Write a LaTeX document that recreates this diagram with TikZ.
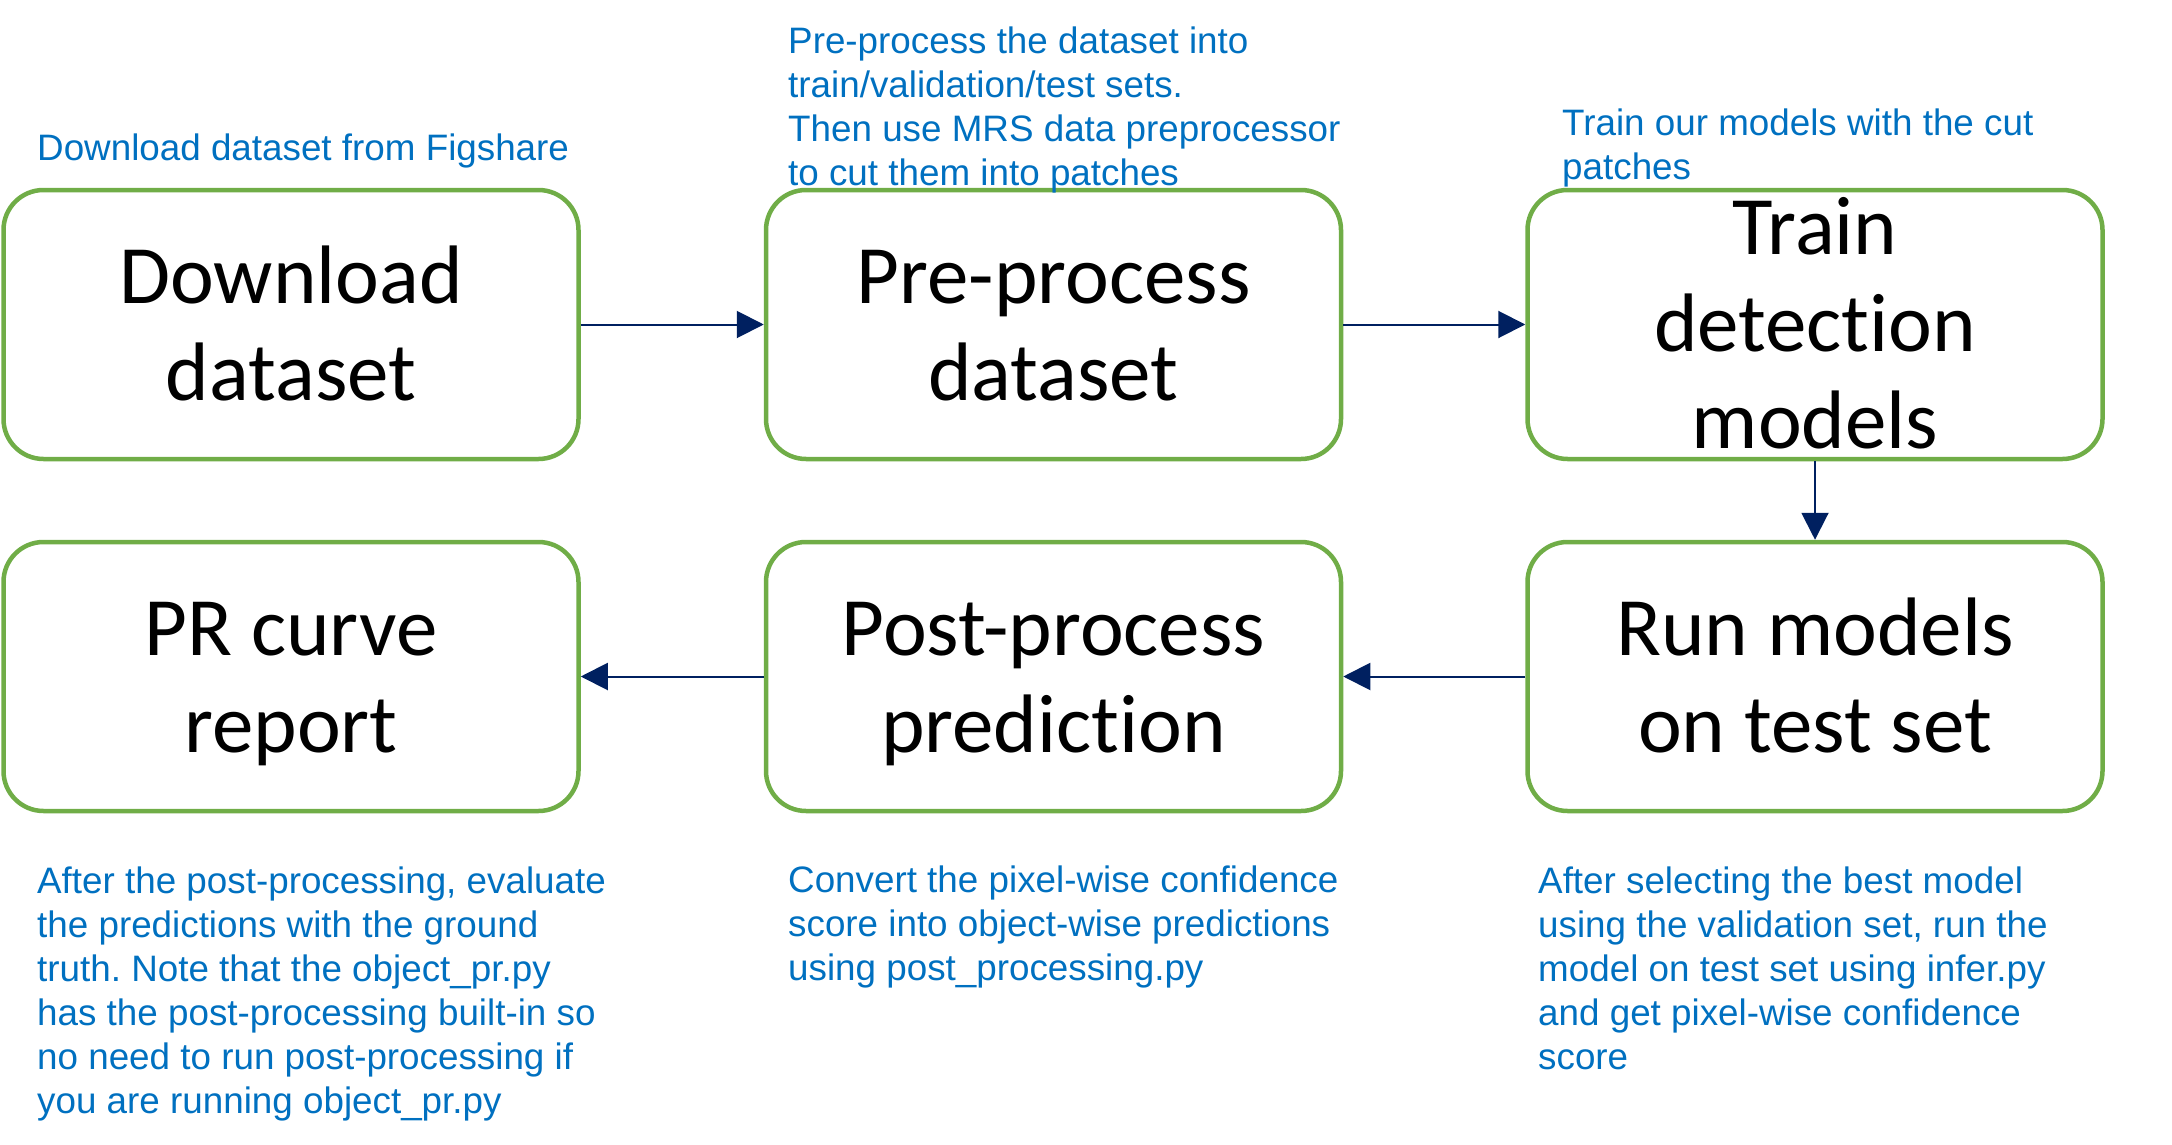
\documentclass[tikz,border=0pt]{standalone}
\usepackage{fontspec}
\setmainfont{Liberation Sans}
\newfontfamily\boxfont[Ligatures=NoCommon]{Carlito}
\usetikzlibrary{arrows.meta}
\definecolor{boxgreen}{HTML}{70AD47}
\definecolor{noteblue}{HTML}{0070C0}
\definecolor{arrownavy}{HTML}{002060}
\newcommand\boxtop{\rule{0pt}{54pt}}
\newcommand\notetop{\rule{0pt}{30pt}}
\frenchspacing
\begin{document}
\begin{tikzpicture}[x=1pt,y=-1pt,
  stagebox/.style={draw=boxgreen, line width=4.5pt, rounded corners=40pt,
    minimum width=575pt, minimum height=269pt, inner sep=0pt, align=center,
    font=\boxfont\fontsize{83}{97}\selectfont},
  note/.style={anchor=north west, inner sep=0pt, align=left, text=noteblue,
    font=\fontsize{36.8}{44}\selectfont},
  flow/.style={draw=arrownavy, line width=2pt, -{Triangle[length=27pt,width=27pt]}}]
\useasboundingbox (0,0) rectangle (2172,1145);

\node[stagebox] (b1) at (291,324.5) {\boxtop\smash{Download}\\\smash{dataset}};
\node[stagebox] (b2) at (1053.5,324.5) {\boxtop\smash{Pre-process}\\\smash{dataset}};
\node[stagebox] (b3) at (1815,324.5) {\boxtop\smash{Train}\\\smash{detection}\\\smash{models}};
\node[stagebox] (b4) at (291,676.5) {\boxtop\smash{PR curve}\\\smash{report}};
\node[stagebox] (b5) at (1053.5,676.5) {\boxtop\smash{Post-process}\\\smash{prediction}};
\node[stagebox] (b6) at (1815,676.5) {\boxtop\smash{Run models}\\\smash{on test set}};

\draw[flow] (b1.east) -- (b2.west);
\draw[flow] (b2.east) -- (b3.west);
\draw[flow] (b3.south) -- (b6.north);
\draw[flow] (b6.west) -- (b5.east);
\draw[flow] (b5.west) -- (b4.east);

\node[note] (n1) at (37,130) {\notetop Download dataset from Figshare};
\node[note] (n2) at (788,23) {\notetop Pre-process the dataset into\\train/validation/test sets.\\Then use MRS data preprocessor\\to cut them into patches};
\node[note] (n3) at (1562,105) {\notetop Train our models with the cut\\patches};
\node[note] (n4) at (37,863) {\notetop After the post-processing, evaluate\\the predictions with the ground\\truth. Note that the object\_pr.py\\has the post-processing built-in so\\no need to run post-processing if\\you are running object\_pr.py};
\node[note] (n5) at (788,862) {\notetop Convert the pixel-wise confidence\\score into object-wise predictions\\using post\_processing.py};
\node[note] (n6) at (1538,863) {\notetop After selecting the best model\\using the validation set, run the\\model on test set using infer.py\\and get pixel-wise confidence\\score};
\end{tikzpicture}
\end{document}
